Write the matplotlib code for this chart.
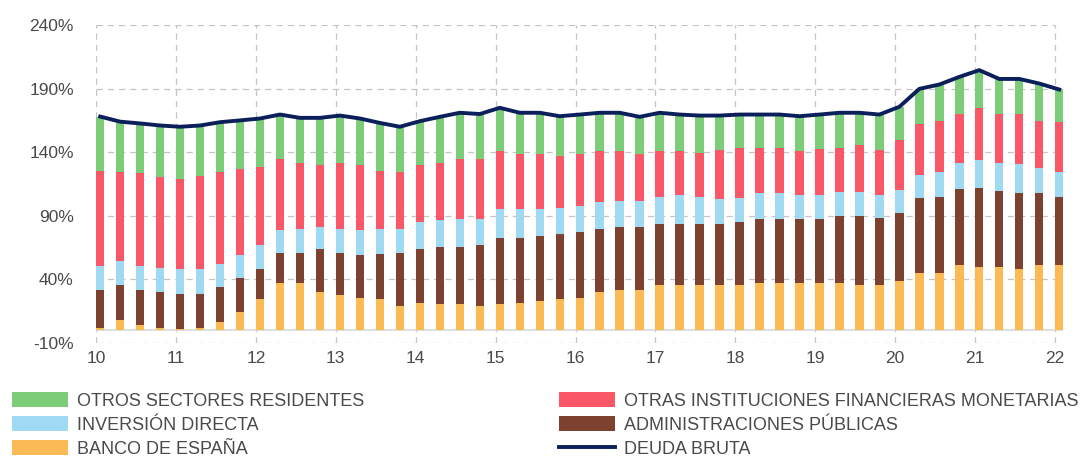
import numpy as np
import matplotlib
matplotlib.use("Agg")
import matplotlib.pyplot as plt
from matplotlib.patches import Patch
from matplotlib.lines import Line2D

# quarterly data 2010Q1 .. 2022Q1 (% of GDP)
banco_espana = [2.0, 7.9, 3.9, 2.1, 0.8, 2.0, 6.5, 14.7, 24.3, 36.9, 36.9, 30.1, 27.5,
                25.7, 24.3, 19.1, 21.2, 20.4, 20.4, 19.1, 20.4, 21.7, 23.0, 24.3, 25.7,
                30.1, 31.4, 31.4, 35.6, 35.6, 35.6, 35.6, 35.6, 36.9, 36.9, 36.9, 36.9,
                36.9, 35.6, 35.6, 38.7, 45.3, 45.3, 51.0, 49.7, 49.7, 48.4, 51.0, 51.0]
admin_publicas = [29.4, 27.7, 27.5, 28.0, 27.5, 26.3, 27.8, 26.7, 23.6, 23.6, 23.6, 33.5, 33.0,
                  33.2, 35.9, 41.4, 42.9, 45.3, 45.3, 47.9, 52.4, 51.1, 51.0, 51.1, 51.5,
                  49.7, 49.8, 49.8, 48.2, 48.2, 48.2, 48.2, 49.5, 50.3, 50.3, 50.3, 50.3,
                  52.9, 54.2, 52.9, 53.7, 58.4, 59.7, 59.7, 62.3, 59.7, 59.7, 57.1, 54.0]
inversion_directa = [19.1, 18.9, 19.1, 19.1, 19.6, 19.6, 17.5, 17.5, 19.1, 18.0, 19.3, 17.6, 19.3,
                     19.6, 19.1, 18.8, 20.9, 20.9, 22.0, 20.7, 22.2, 22.2, 21.0, 20.9, 20.4,
                     21.0, 20.8, 20.8, 20.9, 22.2, 20.9, 19.6, 19.1, 20.4, 20.4, 18.8, 18.8,
                     19.1, 19.1, 17.5, 17.8, 18.0, 19.3, 21.0, 21.8, 22.3, 22.3, 19.1, 19.6]
otras_ifm = [75.1, 69.8, 72.8, 71.2, 70.7, 73.3, 72.5, 68.1, 61.5, 55.8, 51.9, 48.6, 51.9,
             51.3, 45.7, 45.0, 44.8, 44.6, 46.6, 46.6, 45.8, 43.2, 43.2, 40.6, 40.6,
             40.0, 38.8, 36.2, 36.1, 34.8, 34.8, 38.7, 39.3, 35.9, 35.9, 34.8, 36.7,
             34.6, 36.4, 36.1, 39.3, 40.1, 40.1, 38.5, 41.1, 38.5, 39.8, 37.7, 39.0]
otros_sectores = [42.4, 39.7, 39.3, 40.6, 41.4, 39.8, 39.3, 38.0, 38.0, 35.3, 35.3, 37.2, 37.1,
                  36.7, 38.0, 35.7, 34.6, 36.6, 36.7, 35.7, 34.1, 32.8, 32.8, 31.4, 31.4,
                  30.2, 30.2, 29.6, 30.2, 28.8, 29.3, 26.7, 26.1, 26.1, 26.1, 27.5, 26.9,
                  27.5, 25.7, 27.5, 26.2, 28.0, 28.8, 29.0, 29.6, 27.4, 27.4, 29.1, 25.7]
deuda_bruta = [168.0, 164.0, 162.6, 161.0, 160.0, 161.0, 163.6, 165.0, 166.5, 169.6, 167.0, 167.0, 168.8,
               166.5, 163.0, 160.0, 164.4, 167.8, 171.0, 170.0, 174.9, 171.0, 171.0, 168.3, 169.6,
               171.0, 171.0, 167.8, 171.0, 169.6, 168.8, 168.8, 169.6, 169.6, 169.6, 168.3, 169.6,
               171.0, 171.0, 169.6, 175.7, 189.8, 193.2, 199.2, 204.5, 197.6, 197.6, 194.0, 189.3]

year_ticks = list(range(2010, 2023))
year_labels = [str(y % 100) for y in year_ticks]
y_ticks = [-10, 40, 90, 140, 190, 240]

series = [
    ("BANCO DE ESPAÑA", banco_espana, "#fcba55"),
    ("ADMINISTRACIONES PÚBLICAS", admin_publicas, "#7d4130"),
    ("INVERSIÓN DIRECTA", inversion_directa, "#9fdaf2"),
    ("OTRAS INSTITUCIONES FINANCIERAS MONETARIAS", otras_ifm, "#fa5869"),
    ("OTROS SECTORES RESIDENTES", otros_sectores, "#7dcd78"),
]
line_color = "#0b1f5a"
text_color = "#4a4a4a"

plt.rcParams["font.family"] = ["Liberation Sans", "DejaVu Sans"]

fig = plt.figure(figsize=(10.92, 4.61), dpi=100)
ax = fig.add_axes([96 / 1092, 1 - 343 / 461, 967 / 1092, 318 / 461])

x = 2010 + 0.25 * np.arange(len(deuda_bruta))
w = 0.105
bottom = np.zeros(len(x))
handles = {}
for name, vals, col in series:
    vals = np.array(vals)
    ax.bar(x, vals, width=w, bottom=bottom, align="edge", color=col, linewidth=0, zorder=2)
    bottom += vals
    handles[name] = Patch(facecolor=col, edgecolor="none")

ax.plot(x + w / 2, deuda_bruta, color=line_color, linewidth=2.8, zorder=3,
        solid_joinstyle="round")
handles["DEUDA BRUTA"] = Line2D([], [], color=line_color, linewidth=2.8)

ax.set_xlim(2010, 2022.1)
ax.set_ylim(-10, 240)
for s in ax.spines.values():
    s.set_visible(False)

# grid
for yv in y_ticks:
    ax.plot([2010, 2022], [yv, yv], color="#c4c4c4", linewidth=0.9,
            dashes=(5, 4), zorder=1)
for xv in year_ticks:
    ax.plot([xv, xv], [-10, 240], color="#c4c4c4", linewidth=0.9,
            dashes=(5, 4), zorder=1)
ax.plot([2010, 2022.1], [0, 0], color="#d8d8d8", linewidth=1.2, zorder=1)

ax.set_yticks(y_ticks)
ax.set_yticklabels([f"{v}%" for v in y_ticks])
ax.set_xticks(year_ticks)
ax.set_xticklabels(year_labels)
ax.tick_params(axis="y", length=0, pad=16, labelsize=12.5, labelcolor=text_color)
ax.tick_params(axis="x", length=0, pad=6, labelsize=12.5, labelcolor=text_color)

col1 = ["OTROS SECTORES RESIDENTES", "INVERSIÓN DIRECTA", "BANCO DE ESPAÑA"]
col2 = ["OTRAS INSTITUCIONES FINANCIERAS MONETARIAS", "ADMINISTRACIONES PÚBLICAS", "DEUDA BRUTA"]
for names, x0 in [(col1, 12 / 1092), (col2, 559 / 1092)]:
    leg = fig.legend([handles[n] for n in names], names, loc="upper left",
                     bbox_to_anchor=(x0, 1 - 392 / 461), frameon=False,
                     fontsize=13, handlelength=3.1, handleheight=0.9,
                     handletextpad=0.5, labelspacing=0.36, borderpad=0,
                     borderaxespad=0)
    for t in leg.get_texts():
        t.set_color(text_color)

fig.savefig("out.png", dpi=100)
